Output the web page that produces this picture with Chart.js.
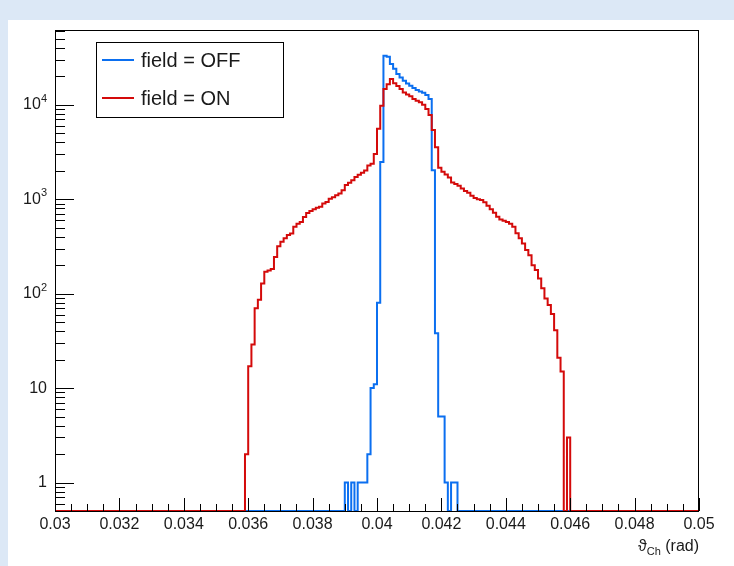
<!DOCTYPE html>
<html>
<head>
<meta charset="utf-8">
<script src="https://cdn.jsdelivr.net/npm/chart.js@4.4.1/dist/chart.umd.min.js"></script>
<style>
  html, body { margin: 0; padding: 0; background: #dce8f6; }
  canvas { display: block; }
</style>
</head>
<body>
<canvas id="thetaChart" width="734" height="566"></canvas>
<script>
// histogram binning (rad)
const xMin = 0.03;
const xMax = 0.05;
const binWidth = 0.0001;
const yMin = 0.5;
const yMax = 61800;

const xTicks = [0.03, 0.032, 0.034, 0.036, 0.038, 0.04, 0.042, 0.044, 0.046, 0.048, 0.05];
const xTickLabels = ['0.03', '0.032', '0.034', '0.036', '0.038', '0.04', '0.042', '0.044', '0.046', '0.048', '0.05'];
const yDecades = [1, 10, 100, 1000, 10000];
const yDecadeLabels = [['1', ''], ['10', ''], ['10', '2'], ['10', '3'], ['10', '4']];

const seriesLabels = ['field = OFF', 'field = ON'];

// counts per bin, field OFF, first bin starts at 0.0390
const fieldOffStart = 0.0390;
const fieldOff = [1, 0, 1, 0, 1, 1, 1, 2, 10, 11,
  80, 2470, 33000, 32200, 27000, 24000, 21100, 19400, 17900, 16800,
  15900, 15000, 14300, 13800, 13400, 12700, 11500, 2020, 38, 5,
  5, 1, 0, 1, 1];

// counts per bin, field ON, first bin starts at 0.0359
const fieldOnStart = 0.0359;
const fieldOn = [2, 17, 29, 70, 86, 128, 170, 176, 182, 245,
  317, 354, 385, 417, 432, 510, 550, 575, 648, 715,
  750, 780, 810, 830, 900, 935, 1010, 1050, 1100, 1150,
  1240, 1410, 1490, 1590, 1720, 1810, 1900, 2010, 2270, 2370,
  3010, 5560, 9770, 14700, 16500, 18700, 16900, 15800, 14700, 13500,
  12800, 12300, 11500, 11000, 10600, 10000, 9000, 7800, 5400, 3550,
  2150, 1950, 1830, 1700, 1500, 1450, 1390, 1300, 1220, 1170,
  1090, 1030, 1000, 980, 930, 850, 780, 720, 650, 610,
  590, 575, 550, 510, 435, 385, 340, 290, 255, 200,
  178, 145, 114, 89, 76, 61, 41, 21, 15, 0,
  3];

const offColor = '#0b6ff0';
const onColor = '#d40a0a';
const font = '"Liberation Sans", Arial, sans-serif';

// one point per bin edge, empty bins sit on the bottom of the frame
function histPoints(start, counts) {
  const nBins = Math.round((xMax - xMin) / binWidth);
  const first = Math.round((start - xMin) / binWidth);
  const pts = [];
  for (let i = 0; i <= nBins; i++) {
    const j = Math.min(i, nBins - 1) - first;
    const c = j >= 0 && j < counts.length ? counts[j] : 0;
    pts.push({ x: xMin + i * binWidth, y: c > 0 ? c : yMin });
  }
  return pts;
}

const rootStyle = {
  id: 'rootStyle',
  beforeDraw(chart) {
    const ctx = chart.ctx;
    ctx.save();
    ctx.fillStyle = '#ffffff';
    ctx.fillRect(8, 20, 726, 546);
    ctx.restore();
  },
  afterDraw(chart) {
    const ctx = chart.ctx;
    const a = chart.chartArea;
    const xs = chart.scales.x;
    const ys = chart.scales.y;
    ctx.save();
    ctx.strokeStyle = '#000';
    ctx.lineWidth = 1;

    // frame
    ctx.strokeRect(Math.round(a.left) + 0.5, Math.round(a.top) + 0.5,
      Math.round(a.right - a.left) - 1, Math.round(a.bottom - a.top));

    // x ticks, pointing inside
    ctx.beginPath();
    for (let k = 0; k <= 40; k++) {
      const v = xMin + k * 0.0005;
      const px = Math.round(xs.getPixelForValue(v)) + 0.5;
      const len = k % 4 === 0 ? 13 : 7;
      ctx.moveTo(px, a.bottom);
      ctx.lineTo(px, a.bottom - len);
    }
    // y ticks (log)
    for (let e = -1; e <= 4; e++) {
      for (let m = 1; m <= 9; m++) {
        const v = m * Math.pow(10, e);
        if (v < yMin || v > yMax) continue;
        const py = Math.round(ys.getPixelForValue(v)) + 0.5;
        ctx.moveTo(a.left, py);
        ctx.lineTo(a.left + (m === 1 ? 19 : 10), py);
      }
    }
    ctx.stroke();

    // y labels with exponents
    ctx.fillStyle = '#1a1a1a';
    ctx.textBaseline = 'middle';
    yDecades.forEach((v, i) => {
      const py = ys.getPixelForValue(v);
      const [base, exp] = yDecadeLabels[i];
      let right = a.left - 8;
      if (exp) {
        ctx.font = '11px ' + font;
        ctx.textAlign = 'right';
        ctx.fillText(exp, right, py - 6);
        right -= ctx.measureText(exp).width;
      }
      ctx.font = '16px ' + font;
      ctx.textAlign = 'right';
      ctx.fillText(base, right, py);
    });

    // axis title
    ctx.textBaseline = 'alphabetic';
    ctx.textAlign = 'left';
    ctx.font = '16px ' + font;
    const t1 = '\u03d1', t3 = ' (rad)';
    ctx.font = '11px ' + font;
    const w2 = ctx.measureText('Ch').width;
    ctx.font = '16px ' + font;
    const w1 = ctx.measureText(t1).width;
    const w3 = ctx.measureText(t3).width;
    let tx = a.right - (w1 + w2 + w3);
    const ty = 551;
    ctx.fillText(t1, tx, ty);
    ctx.font = '11px ' + font;
    ctx.fillText('Ch', tx + w1, ty + 4);
    ctx.font = '16px ' + font;
    ctx.fillText(t3, tx + w1 + w2, ty);

    // legend
    ctx.strokeRect(96.5, 42.5, 187, 75);
    const colors = [offColor, onColor];
    ctx.font = '20px ' + font;
    ctx.textBaseline = 'middle';
    seriesLabels.forEach((lab, i) => {
      const ly = [60, 98][i];
      ctx.strokeStyle = colors[i];
      ctx.lineWidth = 2;
      ctx.beginPath();
      ctx.moveTo(102, ly);
      ctx.lineTo(134, ly);
      ctx.stroke();
      ctx.fillStyle = '#1a1a1a';
      ctx.fillText(lab, 141, ly + 1);
    });
    ctx.restore();
  }
};

new Chart(document.getElementById('thetaChart'), {
  type: 'line',
  data: {
    datasets: [
      {
        label: seriesLabels[0],
        data: histPoints(fieldOffStart, fieldOff),
        borderColor: offColor,
        borderWidth: 2,
        stepped: true,
        pointRadius: 0,
        fill: false,
        order: 1,
      },
      {
        label: seriesLabels[1],
        data: histPoints(fieldOnStart, fieldOn),
        borderColor: onColor,
        borderWidth: 2,
        stepped: true,
        pointRadius: 0,
        fill: false,
        order: 0,
      }
    ]
  },
  options: {
    responsive: false,
    animation: false,
    layout: { padding: { top: 30, right: 35, left: 0, bottom: 0 } },
    plugins: { legend: { display: false }, tooltip: { enabled: false } },
    scales: {
      x: {
        type: 'linear',
        min: xMin,
        max: xMax,
        afterFit(scale) { scale.height = 55; },
        afterBuildTicks(scale) { scale.ticks = xTicks.map((v) => ({ value: v })); },
        grid: { display: false, drawTicks: false },
        border: { display: false },
        ticks: {
          autoSkip: false,
          maxRotation: 0,
          padding: 4,
          color: '#1a1a1a',
          font: { family: font, size: 16 },
          callback: (v, i) => xTickLabels[i],
        }
      },
      y: {
        type: 'logarithmic',
        min: yMin,
        max: yMax,
        afterFit(scale) { scale.width = 55; },
        grid: { display: false, drawTicks: false },
        border: { display: false },
        ticks: { display: false }
      }
    }
  },
  plugins: [rootStyle]
});
</script>
</body>
</html>
